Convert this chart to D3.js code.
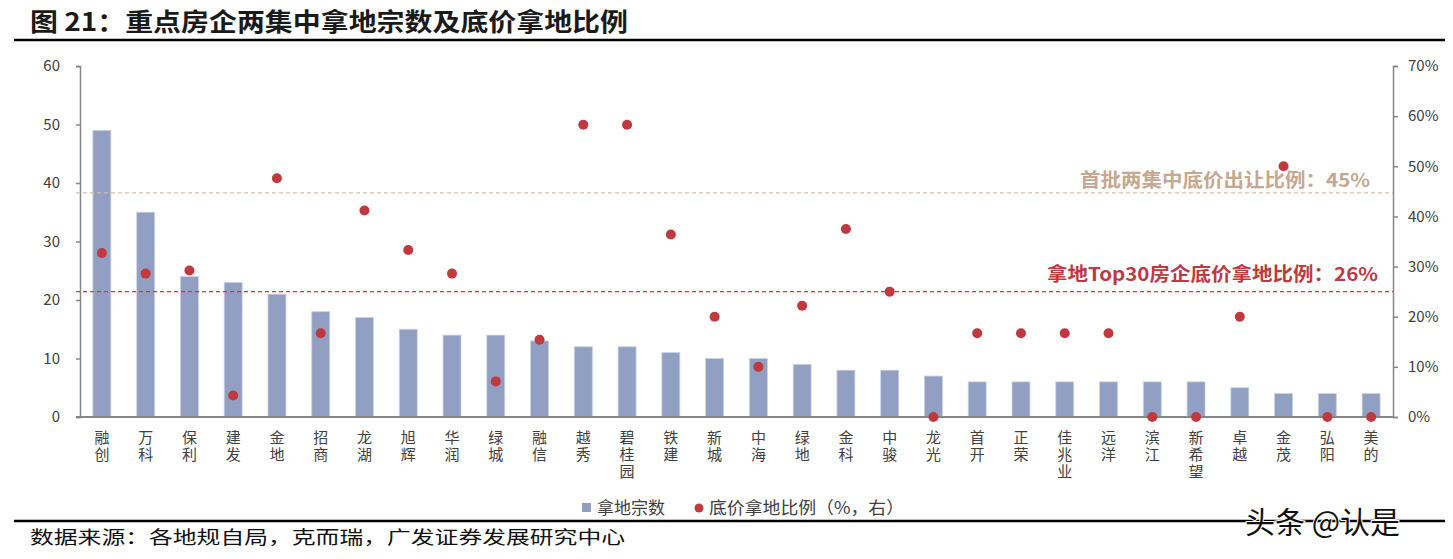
<!DOCTYPE html>
<html><head><meta charset="utf-8">
<script src="https://cdn.jsdelivr.net/npm/d3@7/dist/d3.min.js"></script>
<style>
html,body{margin:0;padding:0;background:#fff;}
text{font-family:"Noto Sans CJK SC","Noto Sans",sans-serif;}
</style></head><body>
<svg id="chart" width="1453" height="559"></svg>
<script>
const categories = ["融创","万科","保利","建发","金地","招商","龙湖","旭辉","华润","绿城","融信","越秀","碧桂园","铁建","新城","中海","绿地","金科","中骏","龙光","首开","正荣","佳兆业","远洋","滨江","新希望","卓越","金茂","弘阳","美的"];
const landCount = [49,35,24,23,21,18,17,15,14,14,13,12,12,11,10,10,9,8,8,7,6,6,6,6,6,6,5,4,4,4];
const floorRatio = [32.7,28.6,29.2,4.3,47.6,16.7,41.2,33.3,28.6,7.1,15.4,58.3,58.3,36.4,20,10,22.2,37.5,25,0,16.7,16.7,16.7,16.7,0,0,20,50,0,0];
const leftTicks = [0,10,20,30,40,50,60];
const rightTicks = [0,10,20,30,40,50,60,70];
const refFirst = {value:44.7, label:"首批两集中底价出让比例：45%"};
const refTop30 = {value:25, label:"拿地Top30房企底价拿地比例：26%"};
const titleText = "图 21：重点房企两集中拿地宗数及底价拿地比例";
const sourceText = "数据来源：各地规自局，克而瑞，广发证券发展研究中心";
const legendBar = "拿地宗数", legendDot = "底价拿地比例（%，右）";

const svg = d3.select("#chart");
const L = 80, R = 1393, T = 66, B = 417;
const x = d3.scaleBand().domain(categories).range([L, R]).paddingInner(0.59).paddingOuter(0.295);
const yL = d3.scaleLinear().domain([0,60]).range([B,T]);
const yR = d3.scaleLinear().domain([0,70]).range([B,T]);
const axisColor = "#868686", textColor = "#404040";

// title
svg.append("text").attr("x",30).attr("y",31).attr("font-size",25).attr("font-weight","bold")
  .attr("fill","#1a1a1a").attr("textLength",598).attr("lengthAdjust","spacingAndGlyphs").text(titleText);
svg.append("line").attr("x1",14).attr("x2",1445).attr("y1",40).attr("y2",40).attr("stroke","#000").attr("stroke-width",2.5);

// bars
svg.append("g").selectAll("rect").data(categories).join("rect")
  .attr("x", d=>x(d)).attr("width", x.bandwidth())
  .attr("y", (d,i)=>yL(landCount[i])).attr("height",(d,i)=>B-yL(landCount[i]))
  .attr("fill","#919fc2").attr("stroke","#c9d0e2").attr("stroke-width",0.8);

// axes
const gl = svg.append("g").attr("transform",`translate(${L},0)`)
  .call(d3.axisLeft(yL).tickValues(leftTicks).tickSize(4).tickPadding(16).tickFormat(d3.format("d")));
const gr = svg.append("g").attr("transform",`translate(${R},0)`)
  .call(d3.axisRight(yR).tickValues(rightTicks).tickSize(5).tickPadding(10).tickFormat(d=>d+"%"));
[gl,gr].forEach(g=>{
  g.select(".domain").attr("stroke",axisColor).attr("stroke-width",1.5);
  g.selectAll(".tick line").attr("stroke",axisColor).attr("stroke-width",1.5);
  g.selectAll(".tick text").attr("fill",textColor).attr("font-size",15).attr("font-family","Liberation Sans, Arial, sans-serif");
});
svg.append("line").attr("x1",L-4).attr("x2",R).attr("y1",B).attr("y2",B).attr("stroke",axisColor).attr("stroke-width",2);

// reference lines
svg.append("line").attr("x1",L-4).attr("x2",R).attr("y1",yR(refFirst.value)).attr("y2",yR(refFirst.value))
  .attr("stroke","#d8bfae").attr("stroke-width",1.3).attr("stroke-dasharray","4,3");
svg.append("line").attr("x1",L-4).attr("x2",R).attr("y1",yR(refTop30.value)).attr("y2",yR(refTop30.value))
  .attr("stroke","#e0303a").attr("stroke-width",1.3).attr("stroke-dasharray","4,3");
svg.append("text").attr("x",1080).attr("y",yR(refFirst.value)-6).attr("font-size",19).attr("font-weight","bold")
  .attr("fill","#c6a791").attr("textLength",290).attr("lengthAdjust","spacingAndGlyphs").text(refFirst.label);
svg.append("text").attr("x",1047).attr("y",yR(refTop30.value)-11).attr("font-size",19).attr("font-weight","bold")
  .attr("fill","#bd3a40").attr("textLength",331).attr("lengthAdjust","spacingAndGlyphs").text(refTop30.label);

// dots
svg.append("g").selectAll("circle").data(categories).join("circle")
  .attr("cx", d=>x(d)+x.bandwidth()/2).attr("cy",(d,i)=>yR(floorRatio[i])).attr("r",5)
  .attr("fill","#c0393f");

// category labels (vertical writing mode)
svg.append("g").selectAll("text").data(categories).join("text")
  .attr("font-size",15).attr("fill",textColor)
  .attr("writing-mode","tb").style("letter-spacing","2px")
  .attr("x", d=>x(d)+x.bandwidth()/2).attr("y", 430).text(d=>d);

// legend
svg.append("rect").attr("x",582).attr("y",503).attr("width",9).attr("height",9).attr("fill","#919fc2");
svg.append("text").attr("x",597).attr("y",514).attr("font-size",17).attr("fill",textColor).text(legendBar);
svg.append("circle").attr("cx",699).attr("cy",508).attr("r",4.5).attr("fill","#c0393f");
svg.append("text").attr("x",709).attr("y",514).attr("font-size",17).attr("fill",textColor).attr("textLength",195).attr("lengthAdjust","spacingAndGlyphs").text(legendDot);

// footer
svg.append("line").attr("x1",14).attr("x2",1445).attr("y1",521).attr("y2",521).attr("stroke","#000").attr("stroke-width",2.5);
svg.append("text").attr("x",30).attr("y",544).attr("font-size",18).attr("fill","#111").attr("textLength",595).attr("lengthAdjust","spacingAndGlyphs").text(sourceText);

// watermark
svg.append("text").attr("x",1245).attr("y",533).attr("font-size",30).attr("fill","#111")
  .attr("stroke","#fff").attr("stroke-width",2).attr("paint-order","stroke").text("头条 @认是");
</script></body></html>
